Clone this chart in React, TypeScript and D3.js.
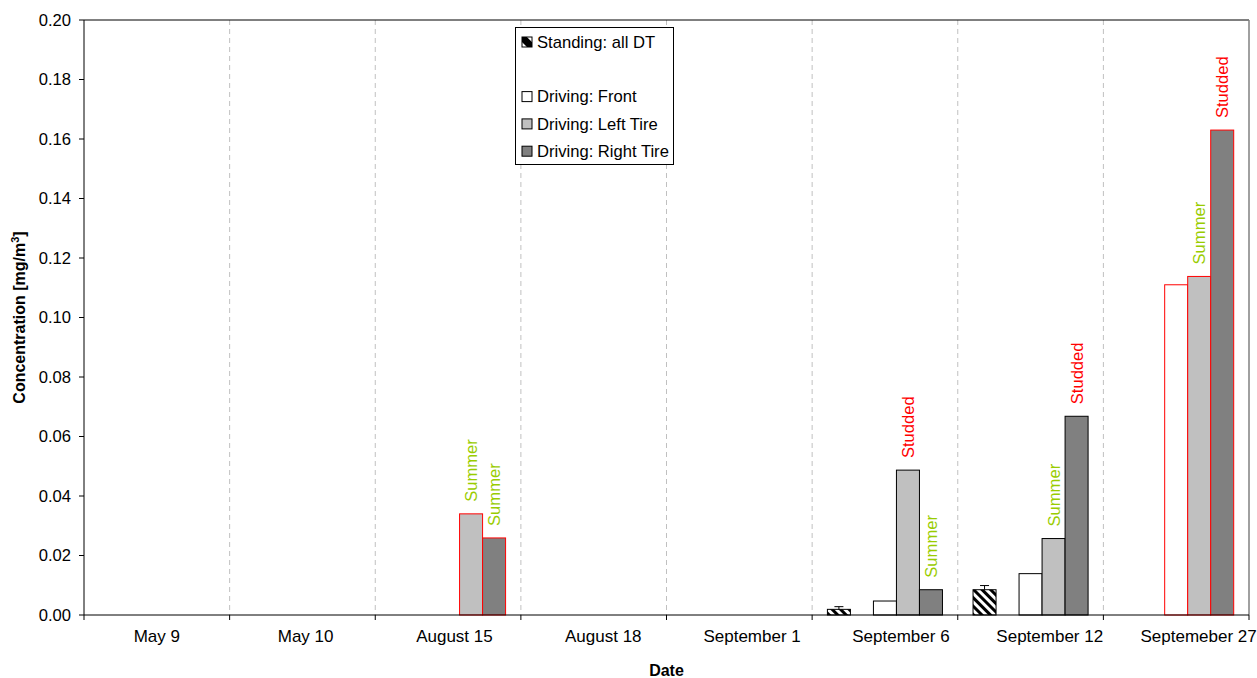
import React from 'react';
import * as d3 from 'd3';

const categories = ['May 9', 'May 10', 'August 15', 'August 18', 'September 1', 'September 6', 'September 12', 'Septemeber 27'];

// concentrations in mg/m3, null where nothing was measured
const standing = [null, null, null, null, null, 0.0019, 0.0085, null];
const standingErr = [null, null, null, null, null, 0.0028, 0.0099, null];
const front = [null, null, null, null, null, 0.0047, 0.0139, 0.111];
const leftTire = [null, null, 0.034, null, null, 0.0487, 0.0257, 0.1138];
const rightTire = [null, null, 0.0259, null, null, 0.0085, 0.0668, 0.163];

const leftLabels = [null, null, 'Summer', null, null, 'Studded', 'Summer', 'Summer'];
const rightLabels = [null, null, 'Summer', null, null, 'Summer', 'Studded', 'Studded'];

// days where the driving bars are outlined in red
const redDays = ['August 15', 'Septemeber 27'];

const yTicks = [0, 0.02, 0.04, 0.06, 0.08, 0.1, 0.12, 0.14, 0.16, 0.18, 0.2];

const seriesKeys = ['standing', 'blank', 'front', 'left', 'right'];

const W = 1257;
const H = 678;
const m = { left: 84, right: 1249, top: 20, bottom: 615 };
const font = '"Liberation Sans", Arial, sans-serif';
const fs = 16.6;
const labelColor: Record<string, string> = { Summer: '#99CC00', Studded: '#FF0000' };

export default function App() {
  const x = d3.scaleBand().domain(categories).range([m.left, m.right]).padding(0);
  const bw = x.bandwidth();
  const xs = d3.scaleBand().domain(seriesKeys).range([bw * 0.105, bw * 0.895]).padding(0);
  const y = d3.scaleLinear().domain([0, 0.2]).range([m.bottom, m.top]);
  const fmt = d3.format('.2f');

  const bars: any[] = [];
  const labels: any[] = [];
  const errs: any[] = [];

  categories.forEach((c, i) => {
    const red = redDays.includes(c);
    const rows: [string, number | null, string][] = [
      ['standing', standing[i], 'url(#hatch)'],
      ['front', front[i], '#FFFFFF'],
      ['left', leftTire[i], '#C0C0C0'],
      ['right', rightTire[i], '#808080'],
    ];
    rows.forEach(([k, v, fill]) => {
      if (v == null) return;
      const bx = (x(c) as number) + (xs(k) as number);
      bars.push(
        <rect key={c + k} x={bx} y={y(v)} width={xs.bandwidth()} height={y(0) - y(v)}
          fill={fill} stroke={red && k !== 'standing' ? '#FF0000' : '#000'} strokeWidth={1} />
      );
      const lab = k === 'left' ? leftLabels[i] : k === 'right' ? rightLabels[i] : null;
      if (lab) {
        const cx = bx + xs.bandwidth() / 2;
        labels.push(
          <text key={c + k + 'l'} transform={`translate(${cx},${y(v) - 12}) rotate(-90)`}
            dy="0.36em" fontSize={fs} fill={labelColor[lab]} fontFamily={font}>{lab}</text>
        );
      }
      if (k === 'standing' && standingErr[i] != null) {
        const cx = bx + xs.bandwidth() / 2;
        const e = y(standingErr[i] as number);
        errs.push(
          <g key={c + 'err'} stroke="#000" strokeWidth={1}>
            <line x1={cx} x2={cx} y1={y(v)} y2={e} />
            <line x1={cx - 4.5} x2={cx + 4.5} y1={e} y2={e} />
          </g>
        );
      }
    });
  });

  const bounds = categories.map(c => x(c) as number).concat([m.right]);

  const legendItems = [
    { label: 'Standing: all DT', fill: 'url(#hatchSmall)' },
    null,
    { label: 'Driving: Front', fill: '#FFFFFF' },
    { label: 'Driving: Left Tire', fill: '#C0C0C0' },
    { label: 'Driving: Right Tire', fill: '#808080' },
  ];

  return (
    <svg width={W} height={H} style={{ position: 'absolute', left: 0, top: 0, background: '#fff' }} fontFamily={font}>
      <defs>
        <pattern id="hatch" patternUnits="userSpaceOnUse" width={6} height={6} patternTransform="rotate(-45)">
          <rect width={6} height={6} fill="#fff" />
          <rect width={3} height={6} fill="#000" />
        </pattern>
        <pattern id="hatchSmall" patternUnits="userSpaceOnUse" width={14} height={14} patternTransform="translate(522,37) rotate(-45)">
          <rect width={14} height={14} fill="#000" />
          <rect width={7} height={14} fill="#fff" />
        </pattern>
      </defs>

      {/* gridlines between categories */}
      {bounds.slice(1, -1).map((b, i) => (
        <line key={'g' + i} x1={b} x2={b} y1={m.top} y2={m.bottom} stroke="#C0C0C0" strokeDasharray="5,4" />
      ))}

      {/* plot frame */}
      <line x1={m.left} x2={m.right} y1={m.top} y2={m.top} stroke="#000" />
      <line x1={m.right} x2={m.right} y1={m.top} y2={m.bottom} stroke="#808080" strokeWidth={1.5} />

      {bars}
      {errs}
      {labels}

      {/* y axis */}
      <line x1={m.left} x2={m.left} y1={m.top} y2={m.bottom} stroke="#000" />
      {yTicks.map(t => (
        <g key={'y' + t}>
          <line x1={m.left - 5} x2={m.left} y1={y(t)} y2={y(t)} stroke="#000" />
          <text x={m.left - 13} y={y(t)} dy="0.35em" textAnchor="end" fontSize={fs} fill="#000">{fmt(t)}</text>
        </g>
      ))}
      <text transform={`translate(19,${(m.top + m.bottom) / 2}) rotate(-90)`} textAnchor="middle" dy="0.35em"
        fontSize={16} fontWeight="bold" fill="#000">
        Concentration [mg/m<tspan dy="-6" fontSize={11}>3</tspan><tspan dy="6">]</tspan>
      </text>

      {/* x axis */}
      <line x1={m.left} x2={m.right} y1={m.bottom} y2={m.bottom} stroke="#000" />
      {bounds.map((b, i) => (
        <line key={'xt' + i} x1={b} x2={b} y1={m.bottom} y2={m.bottom + 5} stroke="#000" />
      ))}
      {/* the original labels drift a little to the right along the axis */}
      {categories.map((c, i) => (
        <text key={'xl' + c} x={(x(c) as number) + bw / 2 + i * 3.2} y={642} textAnchor="middle" fontSize={17} fill="#000">{c}</text>
      ))}
      <text x={(m.left + m.right) / 2} y={676} textAnchor="middle" fontSize={16} fontWeight="bold" fill="#000">Date</text>

      {/* legend */}
      <rect x={515.5} y={27.5} width={158} height={137} fill="#fff" stroke="#000" />
      {legendItems.map((it, i) => it && (
        <g key={'lg' + i} transform={`translate(522,${42 + i * 27.3})`}>
          <rect x={0} y={-5} width={10} height={10} fill={it.fill} stroke="#000" />
          <text x={15} y={0} dy="0.35em" fontSize={fs} fill="#000">{it.label}</text>
        </g>
      ))}
    </svg>
  );
}
